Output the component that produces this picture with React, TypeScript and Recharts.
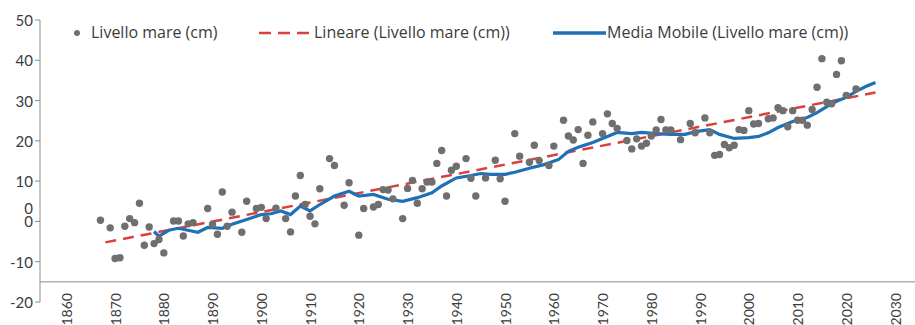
import React from "react";
import {
  ComposedChart,
  Scatter,
  Line,
  XAxis,
  YAxis,
  ReferenceLine,
  Legend,
} from "recharts";

// Livello mare (cm) — annual observations
const seaYears = [
  1867, 1869, 1870, 1871, 1872, 1873, 1874, 1875, 1876, 1877, 1878, 1879, 1880,
  1882, 1883, 1884, 1885, 1886, 1889, 1890, 1891, 1892, 1893, 1894, 1896, 1897,
  1899, 1900, 1901, 1903, 1905, 1906, 1907, 1908, 1909, 1910, 1911, 1912, 1914,
  1915, 1917, 1918, 1920, 1921, 1923, 1924, 1925, 1926, 1927, 1929, 1930, 1931,
  1932, 1933, 1934, 1935, 1936, 1937, 1938, 1939, 1940, 1942, 1943, 1944, 1946,
  1948, 1949, 1950, 1952, 1953, 1955, 1956, 1957, 1959, 1960, 1962, 1963, 1964,
  1965, 1966, 1967, 1968, 1970, 1971, 1972, 1973, 1975, 1976, 1977, 1978, 1979,
  1980, 1981, 1982, 1983, 1984, 1986, 1988, 1989, 1991, 1992, 1993, 1994, 1995,
  1996, 1997, 1998, 1999, 2000, 2001, 2002, 2004, 2005, 2006, 2007, 2008, 2009,
  2010, 2011, 2012, 2013, 2014, 2015, 2016, 2017, 2018, 2019, 2020, 2022,
];
const seaValues = [
  0.3, -1.6, -9.2, -9.0, -1.2, 0.7, -0.3, 4.5, -5.9, -1.4, -5.5, -4.5, -7.8,
  0.1, 0.1, -3.6, -0.6, -0.3, 3.2, -0.7, -3.2, 7.3, -1.2, 2.3, -2.7, 5.0,
  3.2, 3.5, 0.7, 3.3, 0.7, -2.6, 6.3, 11.4, 4.2, 1.3, -0.6, 8.1, 15.6,
  13.9, 4.0, 9.6, -3.4, 3.2, 3.6, 4.2, 7.9, 7.8, 5.6, 0.7, 8.2, 10.2,
  4.5, 8.1, 9.8, 9.8, 14.4, 17.6, 6.3, 12.7, 13.7, 15.6, 10.7, 6.3, 10.8,
  15.2, 10.6, 5.0, 21.8, 16.2, 14.7, 18.9, 15.1, 13.9, 18.7, 25.1, 21.2, 20.2,
  22.8, 14.4, 21.4, 24.7, 21.8, 26.7, 24.3, 23.1, 20.1, 18.0, 20.5, 18.7, 19.4,
  21.2, 22.7, 25.3, 22.7, 22.7, 20.3, 24.3, 22.0, 25.7, 22.0, 16.4, 16.6, 19.1,
  18.3, 18.9, 22.8, 22.6, 27.5, 24.2, 24.3, 25.5, 25.7, 28.2, 27.5, 23.5, 27.5,
  25.1, 25.1, 23.9, 27.8, 33.3, 40.4, 29.6, 29.2, 36.5, 39.9, 31.3, 32.9,
];

// Lineare (Livello mare (cm)) — trend end points
const trendYears = [1868, 2026];
const trendValues = [-5.2, 32.0];

// Media Mobile (Livello mare (cm))
const maYears = [
  1878, 1879, 1881, 1883, 1887, 1889, 1892, 1894, 1897, 1900, 1902, 1904, 1906,
  1908, 1910, 1912, 1915, 1918, 1920, 1923, 1926, 1929, 1932, 1935, 1937, 1940,
  1943, 1945, 1947, 1950, 1952, 1955, 1958, 1961, 1963, 1965, 1968, 1971, 1973,
  1976, 1978, 1981, 1984, 1987, 1989, 1992, 1994, 1997, 2000, 2002, 2004, 2006,
  2009, 2012, 2014, 2016, 2018, 2020, 2022, 2024, 2026,
];
const maValues = [
  -2.5, -3.7, -2.2, -1.7, -2.7, -1.5, -1.7, -0.7, 0.5, 1.7, 1.9, 2.6, 1.7,
  3.8, 2.6, 4.2, 6.3, 7.5, 6.3, 6.7, 5.5, 5.0, 5.9, 7.1, 8.8, 10.8,
  11.4, 11.9, 11.7, 11.7, 12.2, 13.2, 14.1, 15.4, 17.4, 18.4, 19.6, 21.1, 22.1,
  21.8, 22.1, 21.8, 21.6, 21.6, 22.3, 22.8, 21.6, 20.6, 20.8, 21.1, 22.0, 23.3,
  24.8, 25.8, 27.0, 28.5, 29.8, 30.8, 32.3, 33.5, 34.5,
];

const xTicks = [1860, 1870, 1880, 1890, 1900, 1910, 1920, 1930, 1940, 1950, 1960, 1970, 1980, 1990, 2000, 2010, 2020, 2030];
const yTicks = [-20, -10, 0, 10, 20, 30, 40, 50];

const seaData = seaYears.map((year, i) => ({ year, value: seaValues[i] }));
const trendData = trendYears.map((year, i) => ({ year, value: trendValues[i] }));
const maData = maYears.map((year, i) => ({ year, value: maValues[i] }));

const FONT = "Lato, 'Open Sans', sans-serif";
const LEGEND_FONT = "'Open Sans', Lato, sans-serif";
const TEXT = "#3c3c3c";
const GRAY = "#6f6f6f";
const RED = "#d8413d";
const BLUE = "#1f70b6";
const AXIS = "#8c8c8c";

const XTick = (props: any) => {
  const { x, y, payload } = props;
  const ty = y - 9;
  return (
    <text
      x={x}
      y={ty}
      transform={`rotate(-90, ${x}, ${ty})`}
      textAnchor="end"
      dominantBaseline="central"
      fontFamily={FONT}
      fontSize={14}
      fill={TEXT}
    >
      {payload.value}
    </text>
  );
};

const YTick = (props: any) => {
  const { x, y, payload } = props;
  return (
    <g>
      {payload.value === 0 && (
        <text x={x} y={y - 13} textAnchor="end" dominantBaseline="central" fontFamily={FONT} fontSize={15} fill={TEXT}>
          0
        </text>
      )}
      <text x={x} y={y} textAnchor="end" dominantBaseline="central" fontFamily={FONT} fontSize={15} fill={TEXT}>
        {payload.value}
      </text>
    </g>
  );
};

const LegendContent = () => (
  <div style={{ position: "relative", width: 915, height: 24, fontFamily: LEGEND_FONT, fontSize: 16, color: TEXT }}>
    <svg width={915} height={24} style={{ position: "absolute", left: 0, top: 0 }}>
      <circle cx={77} cy={12} r={3} fill={GRAY} />
      <line x1={259} y1={12} x2={311} y2={12} stroke={RED} strokeWidth={2.5} strokeDasharray="12 7" />
      <line x1={553} y1={12} x2={606} y2={12} stroke={BLUE} strokeWidth={3.5} />
    </svg>
    <span style={{ position: "absolute", left: 91, top: 1, lineHeight: "20px", whiteSpace: "nowrap" }}>Livello mare (cm)</span>
    <span style={{ position: "absolute", left: 314, top: 1, lineHeight: "20px", whiteSpace: "nowrap" }}>Lineare (Livello mare (cm))</span>
    <span style={{ position: "absolute", left: 607, top: 1, lineHeight: "20px", whiteSpace: "nowrap" }}>Media Mobile (Livello mare (cm))</span>
  </div>
);

export default function App() {
  return (
    <div style={{ position: "absolute", left: 0, top: 0, width: 915, height: 325, background: "#fff", overflow: "hidden" }}>
      <ComposedChart width={915} height={325} margin={{ top: 20, right: 0, bottom: 0, left: 0 }}>
        <XAxis
          dataKey="year"
          type="number"
          domain={[1854.6, 2034.1]}
          ticks={xTicks}
          interval={0}
          axisLine={false}
          tickLine={false}
          tickSize={0}
          tickMargin={0}
          height={23}
          tick={<XTick />}
          allowDataOverflow
        />
        <YAxis
          type="number"
          domain={[-20, 50]}
          ticks={yTicks}
          interval={0}
          width={40}
          axisLine={{ stroke: AXIS, strokeWidth: 1 }}
          tickLine={{ stroke: AXIS, strokeWidth: 1 }}
          tickSize={5}
          tickMargin={2}
          tick={<YTick />}
        />
        <ReferenceLine y={-15} stroke={AXIS} strokeWidth={1} ifOverflow="visible" />
        <Scatter
          name="Livello mare (cm)"
          data={seaData}
          dataKey="value"
          fill={GRAY}
          isAnimationActive={false}
          shape={(p: any) => <circle cx={p.cx} cy={p.cy} r={3.7} fill={GRAY} />}
        />
        <Line
          name="Lineare (Livello mare (cm))"
          data={trendData}
          dataKey="value"
          type="linear"
          stroke={RED}
          strokeWidth={2.5}
          strokeDasharray="11 7"
          dot={false}
          activeDot={false}
          isAnimationActive={false}
        />
        <Line
          name="Media Mobile (Livello mare (cm))"
          data={maData}
          dataKey="value"
          type="linear"
          stroke={BLUE}
          strokeWidth={3.2}
          dot={false}
          activeDot={false}
          isAnimationActive={false}
        />
        <Legend
          layout="horizontal"
          verticalAlign="middle"
          align="center"
          content={<LegendContent />}
          wrapperStyle={{ top: 21, left: 0, width: 915, height: 24 }}
        />
      </ComposedChart>
    </div>
  );
}
